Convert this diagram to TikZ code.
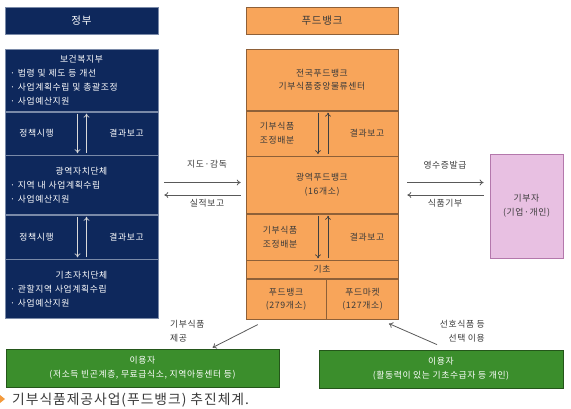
\documentclass[tikz,border=0pt]{standalone}
\usepackage{fontspec}
\setmainfont[LetterSpace=7]{Noto Sans CJK KR}
\usetikzlibrary{arrows.meta}
\definecolor{navyfill}{HTML}{0E285C}
\definecolor{navyline}{HTML}{7A8AA8}
\definecolor{orfill}{HTML}{F8A55A}
\definecolor{orline}{HTML}{8E6038}
\definecolor{grfill}{HTML}{3B8E2C}
\definecolor{grline}{HTML}{24561A}
\definecolor{pkfill}{HTML}{E8C0E2}
\definecolor{pkline}{HTML}{B478AC}
\definecolor{txtgray}{HTML}{3A3A3A}
\definecolor{capmark}{HTML}{F39A3C}

\begin{document}
\begin{tikzpicture}[x=1pt,y=-1pt,>={To[length=4pt,width=6pt]},
		every node/.style={font=\fontsize{8.8}{13.8}\selectfont},
		navy/.style={draw=navyline,line width=0.6pt,fill=navyfill,text=white,minimum width=153pt,inner sep=0pt,anchor=north,align=center},
		orbox/.style={draw=orline,line width=0.6pt,fill=orfill,text=txtgray,inner sep=0pt,anchor=north,align=center},
		grbox/.style={draw=grline,line width=0.8pt,fill=grfill,text=white,minimum height=38pt,align=center},
		head/.style={font=\fontsize{10.5}{12}\selectfont},
		wtxt/.style={text=white,inner sep=1pt},
		dtxt/.style={text=txtgray,inner sep=1pt,align=center},
		link/.style={->,draw=black!65,line width=0.8pt},
		warrow/.style={->,draw=black!15,line width=0.7pt,shorten >=2pt,shorten <=2pt},
		darrow/.style={->,draw=black!75,line width=0.7pt,shorten >=2pt,shorten <=2pt}
		]
		\useasboundingbox (0,0) rectangle (571,409);
		%GOVERNMENT
		\node[navy,head,minimum height=27pt,anchor=center] (gov) at (81.5,20.5) {정부};
		\node[navy,minimum height=62pt,align=left,text width=143pt] (mohw) at (81.5,49)
			{\makebox[143pt]{보건복지부}\\· 법령 및 제도 등 개선\\· 사업계획수립 및 총괄조정\\· 사업예산지원};
		\node[navy,minimum height=43pt] (lv1) at (mohw.south) {};
		\node[navy,minimum height=59pt,align=left,text width=143pt] (metro) at (lv1.south)
			{\makebox[143pt]{광역자치단체}\\· 지역 내 사업계획수립\\· 사업예산지원};
		\node[navy,minimum height=44pt] (lv2) at (metro.south) {};
		\node[navy,minimum height=59pt,align=left,text width=143pt] (local) at (lv2.south)
			{\makebox[143pt]{기초자치단체}\\· 관할지역 사업계획수립\\· 사업예산지원};
		\node[wtxt] (exec1) at ([xshift=-45pt]lv1.center) {정책시행};
		\node[wtxt] (rep1) at ([xshift=45pt]lv1.center) {결과보고};
		\node[wtxt] (exec2) at ([xshift=-45pt]lv2.center) {정책시행};
		\node[wtxt] (rep2) at ([xshift=45pt]lv2.center) {결과보고};
		\draw[warrow] ([xshift=-4pt]lv1.north) -- ([xshift=-4pt]lv1.south);
		\draw[warrow] ([xshift=5pt]lv1.south) -- ([xshift=5pt]lv1.north);
		\draw[warrow] ([xshift=-4pt]lv2.north) -- ([xshift=-4pt]lv2.south);
		\draw[warrow] ([xshift=5pt]lv2.south) -- ([xshift=5pt]lv2.north);
		%FOOD BANK
		\node[orbox,head,minimum width=152pt,minimum height=27pt,anchor=center] (fbh) at (322,20.5) {푸드뱅크};
		\node[orbox,minimum width=152pt,minimum height=61pt] (central) at (322,49)
			{전국푸드뱅크\\기부식품중앙물류센터};
		\node[orbox,minimum width=152pt,minimum height=45pt] (or1) at (central.south) {};
		\node[orbox,minimum width=152pt,minimum height=57pt] (metfb) at (or1.south)
			{광역푸드뱅크\\(16개소)};
		\node[orbox,minimum width=152pt,minimum height=46pt] (or2) at (metfb.south) {};
		\node[orbox,minimum width=152pt,minimum height=18pt] (basic) at (or2.south) {기초};
		\node[orbox,minimum width=80pt,minimum height=40pt,anchor=north west] (fb) at (basic.south west)
			{푸드뱅크\\(279개소)};
		\node[orbox,minimum width=72pt,minimum height=40pt,anchor=north west] (fm) at (fb.north east)
			{푸드마켓\\(127개소)};
		\node[dtxt] (dist1) at ([xshift=-45pt]or1.center) {기부식품\\조정배분};
		\node[dtxt] (orep1) at ([xshift=45pt]or1.center) {결과보고};
		\node[dtxt] (dist2) at ([xshift=-42pt]or2.center) {기부식품\\조정배분};
		\node[dtxt] (orep2) at ([xshift=45pt]or2.center) {결과보고};
		\draw[darrow] ([xshift=-4pt]or1.north) -- ([xshift=-4pt]or1.south);
		\draw[darrow] ([xshift=6pt]or1.south) -- ([xshift=6pt]or1.north);
		\draw[darrow] ([xshift=-4pt]or2.north) -- ([xshift=-4pt]or2.south);
		\draw[darrow] ([xshift=6pt]or2.south) -- ([xshift=6pt]or2.north);
		%DONOR
		\node[draw=pkline,line width=0.8pt,fill=pkfill,text=txtgray,minimum width=73pt,minimum height=104pt,align=center] (donor) at (526.5,206)
			{기부자\\(기업·개인)};
		%USERS
		\node[grbox,minimum width=273pt] (user1) at (142.5,368)
			{이용자\\(저소득 빈곤계층, 무료급식소, 지역아동센터 등)};
		\node[grbox,minimum width=244pt] (user2) at (441,369)
			{이용자\\(활동력이 있는 기초수급자 등 개인)};
		%LINKS
		\draw[link,shorten <=6pt,shorten >=5pt] ([yshift=2.5pt]metro.east) -- ([yshift=2.5pt]metro.east -| metfb.west);
		\draw[link,shorten <=5pt,shorten >=6pt] ([yshift=-10pt]metfb.west) -- ([yshift=-10pt]metfb.west -| metro.east);
		\node[dtxt] (guide) at (207,164) {지도·감독};
		\node[dtxt] (perf) at (207,203) {실적보고};
		\draw[link,shorten <=9pt,shorten >=6pt] ([yshift=2.5pt]metfb.east) -- ([yshift=2.5pt]metfb.east -| donor.west);
		\draw[link,shorten <=6pt,shorten >=9pt] ([yshift=-10pt]metfb.east -| donor.west) -- ([yshift=-10pt]metfb.east);
		\node[dtxt] (receipt) at (445,165) {영수증발급};
		\node[dtxt] (gift) at (445,203) {식품기부};
		\draw[link] ([shift={(12pt,-5pt)}]fb.south west) -- ([shift={(70pt,1pt)}]user1.north);
		\node[dtxt,align=left,anchor=west] (supply) at (169,331.5) {기부식품\\제공};
		\draw[link] ([shift={(-4pt,5pt)}]user2.north) -- ([shift={(-10pt,-4pt)}]fm.south east);
		\node[dtxt,align=right,anchor=east] (choice) at (486,331.5) {선호식품 등\\선택 이용};
		%CAPTION
		\fill[capmark] (0,395) -- (5,399) -- (0,403) -- cycle;
		\node[anchor=west,text=txtgray,font=\fontsize{13.8}{15}\selectfont,inner sep=0pt] (cap) at (12,400) {기부식품제공사업(푸드뱅크) 추진체계.};
	\end{tikzpicture}
\end{document}
